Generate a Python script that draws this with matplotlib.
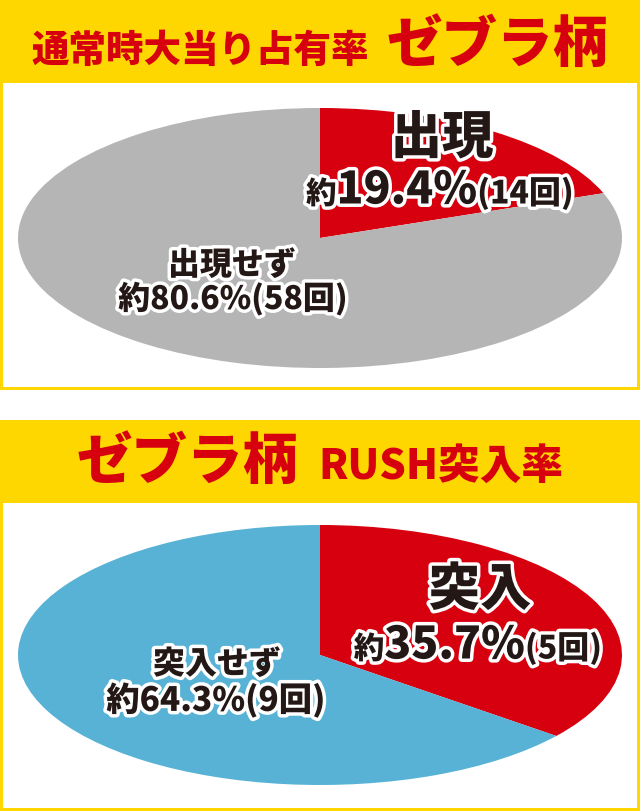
import matplotlib.pyplot as plt
from matplotlib.patches import Rectangle
from matplotlib.offsetbox import TextArea, HPacker, AnnotationBbox
import matplotlib.patheffects as pe

# ---- data ----
top_title_small = '通常時大当り占有率'
top_title_big = 'ゼブラ柄'
top_labels = ['出現', '出現せず']
top_pct = [19.4, 80.6]
top_counts = [14, 58]

bottom_title_big = 'ゼブラ柄'
bottom_title_small = 'RUSH突入率'
bottom_labels = ['突入', '突入せず']
bottom_pct = [35.7, 64.3]
bottom_counts = [5, 9]

YELLOW = '#FFD700'
RED = '#D7000F'
GRAY = '#B5B5B6'
BLUE = '#57B2D6'
INK = '#231815'

FONT = ['Noto Sans CJK JP', 'DejaVu Sans']
W, H = 640, 811

fig = plt.figure(figsize=(6.4, 8.11), dpi=100)


def fx(x):
    return x / W


def fy(y):
    return 1 - y / H


def rect(x0, y0, x1, y1, color):
    r = Rectangle((fx(x0), fy(y1)), (x1 - x0) / W, (y1 - y0) / H,
                  transform=fig.transFigure, facecolor=color, edgecolor='none', zorder=0)
    fig.patches.append(r)


def packed(parts, x, y, color=INK, outline=True, sep=0):
    """parts = list of (text, size); centred at pixel (x, y)"""
    boxes = []
    for txt, size in parts:
        props = dict(fontsize=size, color=color, family=FONT, fontweight='black')
        if outline:
            props['path_effects'] = [pe.withStroke(linewidth=5, foreground='white')]
        boxes.append(TextArea(txt, textprops=props))
    pack = HPacker(children=boxes, align='baseline', pad=0, sep=sep)
    ab = AnnotationBbox(pack, (fx(x), fy(y)), xycoords='figure fraction',
                        frameon=False, box_alignment=(0.5, 0.5), pad=0)
    ab.set_zorder(5)
    fig.add_artist(ab)


def ellipse_pie(y_top, y_bot, values, colors):
    ax = fig.add_axes([fx(18), fy(y_bot), 604 / W, (y_bot - y_top) / H])
    ax.set_zorder(1)
    ax.pie(values, colors=colors, startangle=90, counterclock=False,
           radius=1, wedgeprops=dict(linewidth=0))
    ax.set_aspect('auto')
    ax.set_xlim(-1, 1)
    ax.set_ylim(-1, 1)
    ax.axis('off')


# ---- top panel ----
rect(0, 0, 640, 390, YELLOW)
rect(3, 83, 637, 387, 'white')
ellipse_pie(108, 368, top_pct, [RED, GRAY])
packed([(top_title_small, 27), (top_title_big, 40)], 320, 45, color=RED, outline=False, sep=12)
packed([(top_labels[0], 37)], 442, 138)
packed([('約', 22), (f'{top_pct[0]}%', 32), (f'({top_counts[0]}回)', 23)], 440, 190)
packed([(top_labels[1], 23)], 232, 265)
packed([(f'約{top_pct[1]}%({top_counts[1]}回)', 23)], 233, 299)

# ---- bottom panel ----
rect(0, 420, 640, 811, YELLOW)
rect(3, 503, 637, 808, 'white')
ellipse_pie(525, 785, bottom_pct, [RED, BLUE])
packed([(bottom_title_big, 40), (bottom_title_small, 30)], 320, 462, color=RED, outline=False, sep=14)
packed([(bottom_labels[0], 37)], 480, 590)
packed([('約', 22), (f'{bottom_pct[0]}%', 32), (f'({bottom_counts[0]}回)', 23)], 478, 645)
packed([(bottom_labels[1], 23)], 217, 664)
packed([(f'約{bottom_pct[1]}%({bottom_counts[1]}回)', 24)], 216, 700)

fig.savefig('out.png', dpi=100)
